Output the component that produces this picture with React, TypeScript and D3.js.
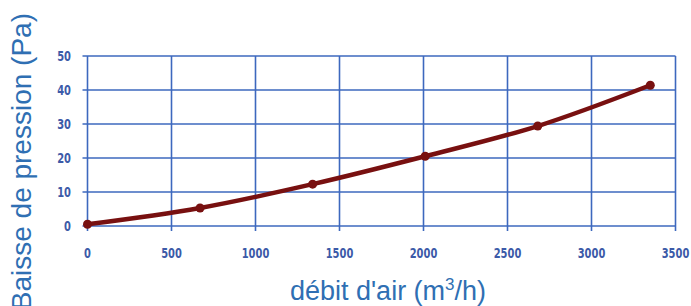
import React from 'react';
import * as d3 from 'd3';

// air flow (m3/h) and pressure drop (Pa) readings
const flow = [0, 670, 1340, 2010, 2680, 3350];
const pressure = [0.5, 5.3, 12.3, 20.5, 29.4, 41.4];
const xTicks = [0, 500, 1000, 1500, 2000, 2500, 3000, 3500];
const yTicks = [0, 10, 20, 30, 40, 50];

const W = 691;
const H = 306;
const gridColor = '#3d68be';
const tickColor = '#3c5aa8';
const titleColor = '#2f6fb3';
const lineColor = '#781010';
const tickFont = "'Liberation Sans Narrow', 'DejaVu Sans Condensed', sans-serif";

const App = () => {
  const x = d3.scaleLinear().domain([0, 3500]).range([87.5, 675.5]);
  const y = d3.scaleLinear().domain([0, 50]).range([226, 56]);

  const points = flow.map((f, i) => [f, pressure[i]] as [number, number]);
  const line = d3.line<[number, number]>()
    .x(d => x(d[0]))
    .y(d => y(d[1]))
    .curve(d3.curveMonotoneX);

  return (
    <svg width={W} height={H} style={{ position: 'absolute', left: 0, top: 0, background: '#fff' }}>
      {/* horizontal grid + y ticks */}
      {yTicks.map(t => (
        <g key={'y' + t}>
          <line x1={82.5} x2={x(3500)} y1={y(t)} y2={y(t)} stroke={gridColor} strokeWidth={1.6} />
          <text transform={`translate(71,${y(t)}) scale(0.85,1.1)`} dy="0.36em" textAnchor="end" fontFamily={tickFont}
            fontWeight="bold" fontSize={13} fill={tickColor} style={{ fontStretch: 'condensed' }}>{t}</text>
        </g>
      ))}
      {/* vertical grid + x ticks */}
      {xTicks.map(t => (
        <g key={'x' + t}>
          <line x1={x(t)} x2={x(t)} y1={y(50)} y2={231} stroke={gridColor} strokeWidth={1.6} />
          <text transform={`translate(${x(t)},258) scale(0.85,1.1)`} textAnchor="middle" fontFamily={tickFont}
            fontWeight="bold" fontSize={13} fill={tickColor} style={{ fontStretch: 'condensed' }}>{t}</text>
        </g>
      ))}

      <path d={line(points) || ''} fill="none" stroke={lineColor} strokeWidth={4.5} strokeLinecap="round" />
      {points.map((p, i) => (
        <circle key={i} cx={x(p[0])} cy={y(p[1])} r={4.5} fill={lineColor} />
      ))}

      <text x={388} y={300} textAnchor="middle" fontFamily="'Liberation Sans', Arial, sans-serif"
        fontSize={27} fill={titleColor}>
        débit d'air (m<tspan dy={-10} fontSize={17}>3</tspan><tspan dy={10}>/h)</tspan>
      </text>
      <text transform="translate(31,13) rotate(-90)" textAnchor="end"
        fontFamily="'Liberation Sans', Arial, sans-serif" fontSize={28} fill={titleColor}>
        Baisse de pression (Pa)
      </text>
    </svg>
  );
};

export default App;
